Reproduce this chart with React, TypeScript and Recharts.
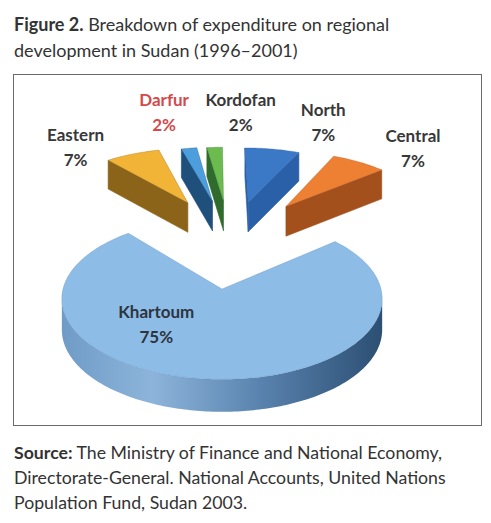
import React from 'react';
import { PieChart, Pie, Tooltip } from 'recharts';

// ---- data ----
const regions = ['Eastern', 'Darfur', 'Kordofan', 'North', 'Central', 'Khartoum'];
const shares = [7, 2, 2, 7, 7, 75];
const exploded = [true, true, true, true, true, false];

// ---- styles ----
const topColors = ['#F2B437', '#4C9EDD', '#6CBB4F', '#3B79C7', '#EE8033', '#8DBDE7'];
const sideColors = ['#8C6419', '#1F4F7B', '#2F6B2D', '#2A60A7', '#A3501D', '#5E8AB8'];
const labelColors = ['#383838', '#D24A4C', '#383838', '#383838', '#383838', '#2E3440'];
const labelNudges = [[-57, -7], [-25, -36], [26, -35], [51, -27], [54, -14], [-50, -55]];
const curvedWallStops = [
  [0, '#6F9BC6'],
  [0.28, '#8DB5DB'],
  [0.62, '#5982AE'],
  [1, '#2C4F73'],
];

const START_ANGLE = 130;
const TILT_SIN = 0.5;
const TILT_COS = 0.866;
const CAMERA = 7.2; // camera distance / radius
const THICK = 0.225; // slab thickness / radius
const EXPLODE = 1.27; // explode distance / radius
const FAN = 0.5;

const total = shares.reduce((a, b) => a + b, 0);
const explodedSum = shares.reduce((a, v, i) => a + (exploded[i] ? v : 0), 0);
const groupMid = START_ANGLE - (explodedSum / total) * 180;

const data = regions.map((name, i) => ({ name, value: shares[i] }));
const FONT = 'Lato, "Open Sans", sans-serif';
const rad = (d: number) => (d * Math.PI) / 180;

function geom(props: any) {
  const { cx, cy, outerRadius: R, startAngle, endAngle } = props;
  const nm = props.name ?? props.payload?.name;
  const i = regions.indexOf(nm);
  const D = R * CAMERA;
  const T = R * THICK;
  const proj = (X: number, Y: number, H: number) => {
    const s = D / (D + Y * TILT_COS);
    const hs = Math.pow(s, 0.35);
    return [cx + X * s, cy - Y * TILT_SIN * s - H * TILT_COS * hs];
  };
  const a = Math.min(startAngle, endAngle);
  const b = Math.max(startAngle, endAngle);
  const mid = (a + b) / 2;
  let ox = 0;
  let oy = 0;
  if (exploded[i]) {
    const dir = groupMid + (mid - groupMid) * FAN;
    ox = EXPLODE * R * Math.cos(rad(dir));
    oy = EXPLODE * R * Math.sin(rad(dir));
  }
  const n = Math.max(2, Math.ceil(b - a));
  const angles: number[] = [];
  for (let k = 0; k <= n; k++) angles.push(a + ((b - a) * k) / n);
  const arc = angles.map((t) => [ox + R * Math.cos(rad(t)), oy + R * Math.sin(rad(t))]);
  const outerMid = proj(ox + R * Math.cos(rad(mid)), oy + R * Math.sin(rad(mid)), 0);
  return { i, proj, T, ox, oy, arc, outerMid };
}

const area = (pts: number[][]) => {
  let s = 0;
  for (let k = 0; k < pts.length; k++) {
    const p = pts[k];
    const q = pts[(k + 1) % pts.length];
    s += p[0] * q[1] - q[0] * p[1];
  }
  return s;
};
const toPath = (pts: number[][]) =>
  pts.map((p, k) => `${k ? 'L' : 'M'}${p[0].toFixed(2)},${p[1].toFixed(2)}`).join(' ') + ' Z';

function Slice3D(props: any) {
  const { i, proj, T, ox, oy, arc } = geom(props);
  if (i < 0) return null;
  const top = (p: number[]) => proj(p[0], p[1], 0);
  const bot = (p: number[]) => proj(p[0], p[1], -T);
  const O = [ox, oy];
  const walls: React.ReactNode[] = [];
  const radial = [
    [O, arc[0]],
    [arc[arc.length - 1], O],
  ];
  radial.forEach(([P, Q], k) => {
    const quad = [top(P), top(Q), bot(Q), bot(P)];
    if (area(quad) > 0) {
      walls.push(
        <path key={`r${k}`} d={toPath(quad)} fill={sideColors[i]} stroke={sideColors[i]} strokeWidth={0.6} />
      );
    }
  });
  const vis: number[] = [];
  for (let k = 0; k < arc.length - 1; k++) {
    const quad = [top(arc[k]), top(arc[k + 1]), bot(arc[k + 1]), bot(arc[k])];
    if (area(quad) > 0) vis.push(k);
  }
  const gid = `wall-grad-${i}`;
  if (vis.length) {
    const k0 = vis[0];
    const k1 = vis[vis.length - 1] + 1;
    const seg = arc.slice(k0, k1 + 1);
    const pts = [...seg.map(top), ...seg.slice().reverse().map(bot)];
    walls.push(<path key="c" d={toPath(pts)} fill={`url(#${gid})`} />);
  }
  const topPts = [top(O), ...arc.map(top)];
  return (
    <g>
      <defs>
        <linearGradient id={gid} x1="0" y1="0" x2="1" y2="0">
          {curvedWallStops.map(([o, c]) => (
            <stop key={String(o)} offset={o as number} stopColor={c as string} />
          ))}
        </linearGradient>
      </defs>
      {walls}
      <path d={toPath(topPts)} fill={topColors[i]} stroke={sideColors[i]} strokeOpacity={0.45} strokeWidth={0.7} />
    </g>
  );
}

function renderLabel(props: any) {
  const { i, outerMid } = geom(props);
  if (i < 0) return null;
  const x = outerMid[0] + labelNudges[i][0];
  const y = outerMid[1] + labelNudges[i][1];
  return (
    <text
      key={`lbl-${i}`}
      textAnchor="middle"
      fontFamily={FONT}
      fontWeight={700}
      fontSize={17}
      fill={labelColors[i]}
    >
      <tspan x={x} y={y - 6}>{regions[i]}</tspan>
      <tspan x={x} y={y + 19}>{`${shares[i]}%`}</tspan>
    </text>
  );
}

export default function App() {
  return (
    <div
      style={{
        position: 'absolute',
        left: 0,
        top: 0,
        width: 491,
        height: 523,
        background: '#fff',
        fontFamily: FONT,
        color: '#333',
        overflow: 'hidden',
      }}
    >
      <div style={{ position: 'absolute', left: 14, top: 11, fontSize: 18, lineHeight: '26px', whiteSpace: 'nowrap' }}>
        <b>Figure 2.</b> Breakdown of expenditure on regional
        <br />
        development in Sudan (1996–2001)
      </div>
      <div
        style={{
          position: 'absolute',
          left: 13,
          top: 74,
          width: 467,
          height: 350,
          border: '1.5px solid #6a6a6a',
        }}
      />
      <div style={{ position: 'absolute', left: 0, top: 0 }}>
        <PieChart width={491} height={523} margin={{ top: 0, right: 0, bottom: 0, left: 0 }}>
          <Tooltip defaultIndex={0} content={() => null} cursor={false} />
          <Pie
            data={data}
            dataKey="value"
            nameKey="name"
            cx={222}
            cy={289}
            outerRadius={159}
            startAngle={START_ANGLE}
            endAngle={START_ANGLE - 360}
            isAnimationActive={false}
            shape={Slice3D as any}
            activeShape={Slice3D as any}
            inactiveShape={Slice3D as any}
            label={renderLabel}
            labelLine={false}
            stroke="none"
          />
        </PieChart>
      </div>
      <div style={{ position: 'absolute', left: 14, top: 440, fontSize: 17.7, lineHeight: '25px', whiteSpace: 'nowrap' }}>
        <b>Source:</b> The Ministry of Finance and National Economy,
        <br />
        Directorate-General. National Accounts, United Nations
        <br />
        Population Fund, Sudan 2003.
      </div>
    </div>
  );
}
